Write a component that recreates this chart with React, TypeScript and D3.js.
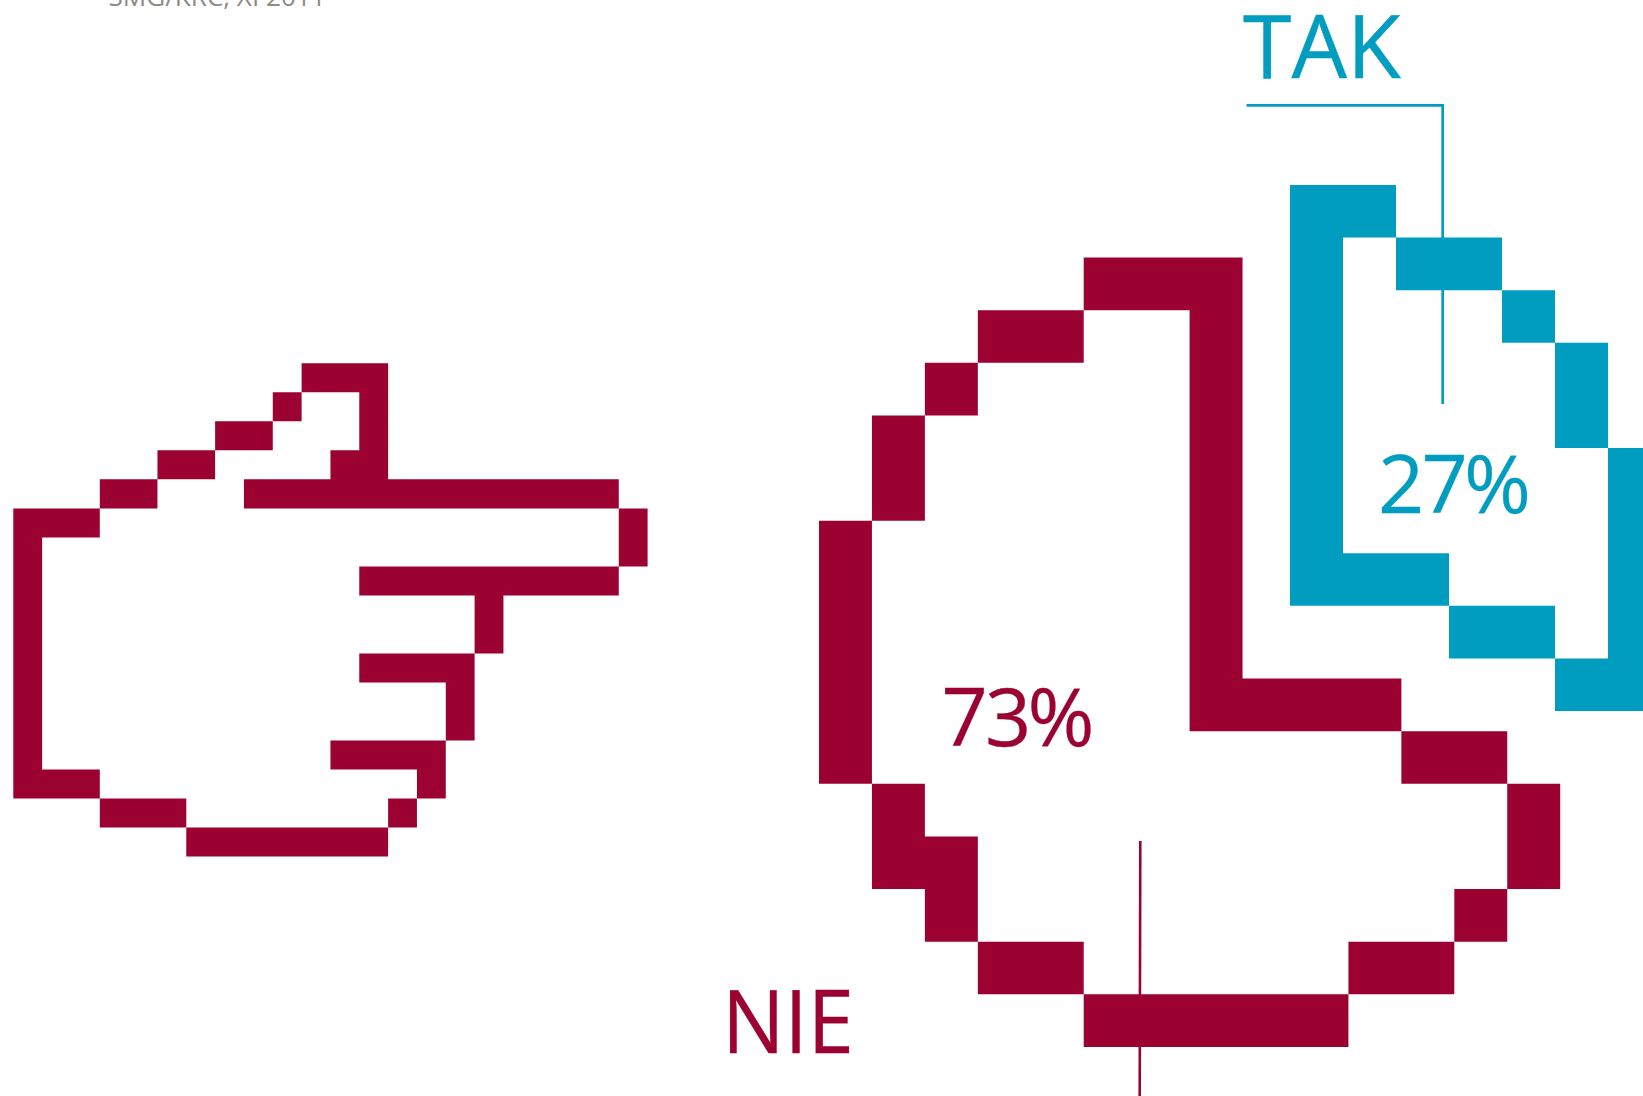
import * as d3 from "d3";

const WIDTH = 1643;
const HEIGHT = 1096;
const CRIMSON = "#9b0232";
const BLUE = "#019dc1";
const FONT = "'Open Sans', sans-serif";

const answers = ["TAK", "NIE"];
const shares = [27, 73];
const source = "SMG/KRC, XI 2011";

// pixel art: one list per grid row, each run is [first column, end column]
const handRows = [
  [[10, 13]],
  [[9, 10], [12, 13]],
  [[7, 9], [12, 13]],
  [[5, 7], [11, 13]],
  [[3, 5], [8, 21]],
  [[0, 3], [21, 22]],
  [[0, 1], [21, 22]],
  [[0, 1], [12, 21]],
  [[0, 1], [16, 17]],
  [[0, 1], [16, 17]],
  [[0, 1], [12, 16]],
  [[0, 1], [15, 16]],
  [[0, 1], [15, 16]],
  [[0, 1], [11, 15]],
  [[0, 3], [14, 15]],
  [[3, 6], [13, 14]],
  [[6, 13]],
];

const nieRows = [
  [[5, 8]],
  [[3, 5], [7, 8]],
  [[2, 3], [7, 8]],
  [[1, 2], [7, 8]],
  [[1, 2], [7, 8]],
  [[0, 1], [7, 8]],
  [[0, 1], [7, 8]],
  [[0, 1], [7, 8]],
  [[0, 1], [7, 11]],
  [[0, 1], [11, 13]],
  [[1, 2], [13, 14]],
  [[1, 3], [13, 14]],
  [[2, 3], [12, 13]],
  [[3, 5], [10, 12]],
  [[5, 10]],
];

const takRows = [
  [[0, 2]],
  [[0, 1], [2, 4]],
  [[0, 1], [4, 5]],
  [[0, 1], [5, 6]],
  [[0, 1], [5, 6]],
  [[0, 1], [6, 7]],
  [[0, 1], [6, 7]],
  [[0, 3], [6, 7]],
  [[3, 5], [6, 7]],
  [[5, 7]],
];

type PixelArtProps = {
  rows: number[][][];
  columns: number;
  xRange: [number, number];
  yRange: [number, number];
  fill: string;
};

// all runs go in one path so neighbouring pixels don't show hairline seams
const PixelArt = ({ rows, columns, xRange, yRange, fill }: PixelArtProps) => {
  const x = d3.scaleLinear().domain([0, columns]).range(xRange);
  const y = d3.scaleLinear().domain([0, rows.length]).range(yRange);

  const path = d3.path();
  rows.forEach((runs, row) => {
    runs.forEach(([start, end]) => {
      path.rect(x(start), y(row), x(end) - x(start), y(row + 1) - y(row));
    });
  });

  return <path d={path.toString()} fill={fill} />;
};

export default function App() {
  const takLeader = d3.line()([
    [1246.5, 105.3],
    [1442.7, 105.3],
    [1442.7, 404],
  ]);
  const nieLeader = d3.line()([
    [1140.3, 841],
    [1139.7, 1096],
  ]);

  return (
    <svg
      width={WIDTH}
      height={HEIGHT}
      viewBox={`0 0 ${WIDTH} ${HEIGHT}`}
      style={{ position: "absolute", left: 0, top: 0, display: "block", background: "#fff" }}
    >
      <text x={108.5} y={6} fontFamily={FONT} fontSize={26.1} fill="#8f8b86">
        {source}
      </text>

      <PixelArt rows={handRows} columns={22} xRange={[13.3, 647.6]} yRange={[363.3, 856.6]} fill={CRIMSON} />
      <PixelArt rows={nieRows} columns={14} xRange={[819, 1560.2]} yRange={[257.5, 1047]} fill={CRIMSON} />
      <PixelArt rows={takRows} columns={7} xRange={[1290, 1661]} yRange={[185, 711]} fill={BLUE} />

      <path d={takLeader ?? ""} fill="none" stroke={BLUE} strokeWidth={2.7} />
      <path d={nieLeader ?? ""} fill="none" stroke={CRIMSON} strokeWidth={2.6} />

      <text x={1243} y={78.3} fontFamily={FONT} fontSize={88} fill={BLUE} stroke={BLUE} strokeWidth={0.4}>
        {answers[0]}
      </text>
      <text x={722} y={1052.7} fontFamily={FONT} fontSize={88.7} fill={CRIMSON} stroke={CRIMSON} strokeWidth={0.4} textLength={132} lengthAdjust="spacingAndGlyphs">
        {answers[1]}
      </text>
      {/* one x per glyph, the original face sets the digits tighter */}
      <text x="1378 1421.5 1464" y={513} fontFamily={FONT} fontSize={81} fill={BLUE} stroke={BLUE} strokeWidth={0.3}>
        {`${shares[0]}%`}
      </text>
      <text x="941.5 985 1027.5" y={745.7} fontFamily={FONT} fontSize={81} fill={CRIMSON} stroke={CRIMSON} strokeWidth={0.3}>
        {`${shares[1]}%`}
      </text>
    </svg>
  );
}
